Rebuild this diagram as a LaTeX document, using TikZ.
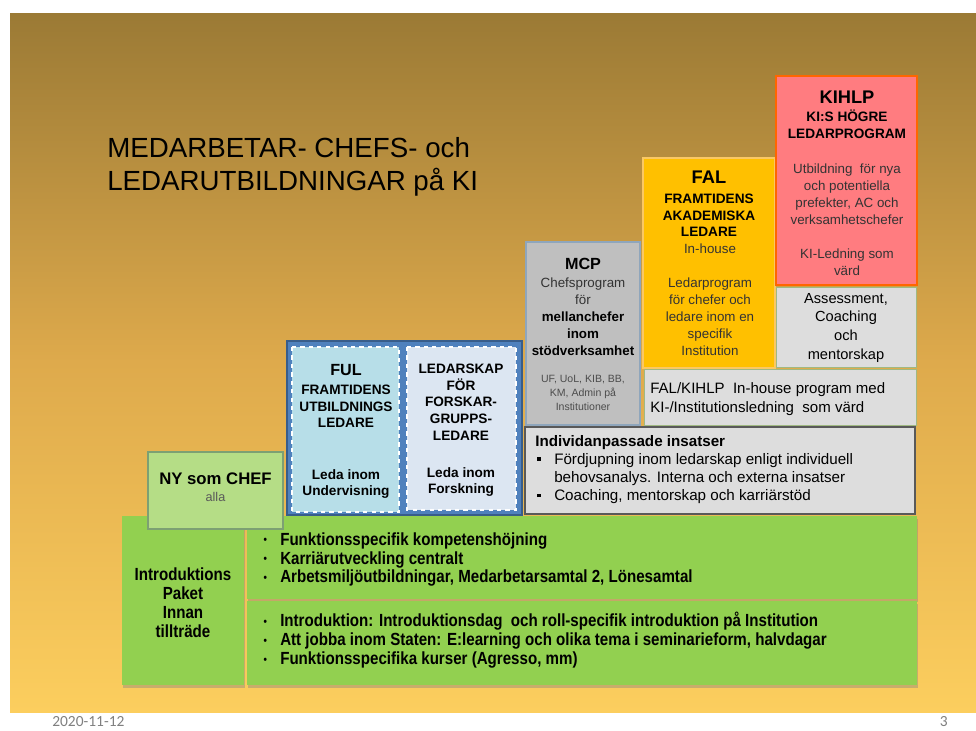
\documentclass[tikz,border=0pt]{standalone}
\usepackage{fontspec}
\setmainfont{Liberation Sans}
\newfontfamily\narrowfont[FakeStretch=0.86]{Liberation Sans}
\newfontfamily\datefont{Carlito}
\usetikzlibrary{shadows}
\definecolor{bgtop}{RGB}{155,122,53}
\definecolor{bgmid}{RGB}{222,170,76}
\definecolor{bgbot}{RGB}{252,206,94}
\definecolor{kigreen}{RGB}{146,208,80}
\definecolor{nygreen}{RGB}{181,221,134}
\definecolor{nyedge}{RGB}{125,160,115}
\definecolor{fulblue}{RGB}{79,129,189}
\definecolor{fuledge}{RGB}{56,93,138}
\definecolor{fulfill}{RGB}{183,222,232}
\definecolor{forskfill}{RGB}{220,230,242}
\definecolor{mcpgrey}{RGB}{191,191,191}
\definecolor{mcpedge}{RGB}{143,166,188}
\definecolor{falorange}{RGB}{255,192,0}
\definecolor{faledge}{RGB}{250,200,100}
\definecolor{kipink}{RGB}{255,124,128}
\definecolor{kiedge}{RGB}{255,102,0}
\definecolor{lightgrey}{RGB}{221,221,221}
\definecolor{greenedge}{RGB}{160,185,130}
\definecolor{darkedge}{RGB}{89,89,89}
\newcommand{\sqbul}{\makebox[13.5pt][l]{\hspace{1.5pt}\rule[2.5pt]{2.6pt}{2.6pt}}}
\newcommand{\dotbul}{\makebox[12.8pt][l]{\hspace{1pt}{\fontsize{8}{8}\selectfont\raisebox{0.8pt}{•}}}}

\begin{document}
\begin{tikzpicture}[x=0.25mm, y=0.25mm]
\tikzstyle{every node}+=[inner sep=0pt]
\tikzstyle{lightbox}=[fill=lightgrey, draw=greenedge, line width=0.7pt]
\tikzstyle{greenbox}=[fill=kigreen, drop shadow={shadow xshift=0.6pt, shadow yshift=-1.8pt, opacity=0.4}]
\tikzstyle{innerbox}=[draw=white, dashed, line width=0.8pt]
\tikzstyle{headtext}=[font=\fontsize{13}{15}\selectfont\bfseries]
\tikzstyle{midhead}=[font=\fontsize{11.5}{13}\selectfont\bfseries]
\tikzstyle{captext}=[align=center, font=\fontsize{9.7}{11.8}\selectfont\bfseries]
\tikzstyle{bodytext}=[align=center, font=\fontsize{9.5}{12}\selectfont, text=black!80]
\tikzstyle{narrowtext}=[align=left, font=\narrowfont\bfseries\fontsize{12.5}{13.5}\selectfont]
\tikzstyle{foottext}=[font=\datefont\fontsize{11}{13}\selectfont, text=black!50]
\useasboundingbox (0,0) rectangle (976,-731);
\fill [white] (0,0) rectangle (976,-731);
\shade [top color=bgtop, bottom color=bgbot, middle color=bgmid] (10,-13) rectangle (976,-712);
\draw (107,-137) node [anchor=north west, align=left, font=\fontsize{19.7}{23.7}\selectfont] (title) {MEDARBETAR- CHEFS- och\\LEDARUTBILDNINGAR på KI};
\fill [greenbox] (122,-516) rectangle (244,-685);
\fill [greenbox] (247,-516) rectangle (917,-599);
\fill [greenbox] (247,-601) rectangle (917,-685);
\draw [fill=nygreen, draw=nyedge, line width=0.9pt] (148,-452) rectangle (283,-529);
\draw [fill=fulblue, draw=fuledge, line width=0.9pt] (287,-341) rectangle (522,-515);
\draw [innerbox, fill=fulfill] (292,-347) rectangle (399,-512);
\draw [innerbox, fill=forskfill] (407,-347) rectangle (516,-510);
\draw [fill=mcpgrey, draw=mcpedge, line width=1.1pt] (526,-242) rectangle (640,-425);
\draw [fill=falorange, draw=faledge, line width=1.2pt] (643,-158) rectangle (775,-368);
\draw [fill=kipink, draw=kiedge, line width=1.8pt] (776,-76) rectangle (917,-285);
\draw [lightbox] (776,-287) rectangle (916,-367);
\draw [lightbox] (644,-369) rectangle (916,-425);
\draw [fill=lightgrey, draw=darkedge, line width=0.9pt] (525,-427) rectangle (915,-514);
\draw (183,-567) node [anchor=north, align=center, font=\narrowfont\bfseries\fontsize{12.5}{13.6}\selectfont] (intro) {Introduktions\\Paket\\Innan\\tillträde};
\draw (262,-532) node [anchor=north west, narrowtext] (upper) {\dotbul Funktionsspecifik kompetenshöjning\\\dotbul Karriärutveckling centralt\\\dotbul Arbetsmiljöutbildningar, Medarbetarsamtal 2, Lönesamtal};
\draw (262,-612) node [anchor=north west, narrowtext] (lower) {\dotbul Introduktion: Introduktionsdag\ \ och roll-specifik introduktion på Institution\\\dotbul Att jobba inom Staten: E:learning och olika tema i seminarieform, halvdagar\\\dotbul Funktionsspecifika kurser (Agresso, mm)};
\draw (215.5,-473) node [anchor=north, font=\fontsize{11.9}{14}\selectfont\bfseries] (nychef) {NY som CHEF};
\draw (215.5,-492) node [anchor=north, font=\fontsize{9}{11}\selectfont, text=black!65] (alla) {alla};
\draw (346,-364) node [anchor=north, midhead] (ful) {FUL};
\draw (346,-385) node [anchor=north, captext] (fulsub) {FRAMTIDENS\\UTBILDNINGS\\LEDARE};
\draw (346,-469) node [anchor=north, captext] (fulleda) {Leda inom\\Undervisning};
\draw (461,-364) node [anchor=north, captext] (forsk) {LEDARSKAP\\FÖR\\FORSKAR-\\GRUPPS-\\LEDARE};
\draw (461,-467) node [anchor=north, captext] (forskleda) {Leda inom\\Forskning};
\draw (583,-258) node [anchor=north, midhead] (mcp) {MCP};
\draw (583,-278) node [anchor=north, bodytext] (mcpbody) {Chefsprogram\\för\\{\color{black}\bfseries mellanchefer}\\{\color{black}\bfseries inom}\\{\color{black}\bfseries stödverksamhet}};
\draw (583,-375) node [anchor=north, align=center, font=\fontsize{7.5}{9.8}\selectfont, text=black!70] (mcpsmall) {UF, UoL, KIB, BB,\\KM, Admin på\\Institutioner};
\draw (709,-171) node [anchor=north, headtext] (fal) {FAL};
\draw (709,-194) node [anchor=north, captext] (falsub) {FRAMTIDENS\\AKADEMISKA\\LEDARE};
\draw (710,-244) node [anchor=north, bodytext] (falbody) {In-house\\[12pt]Ledarprogram\\för chefer och\\ledare inom en\\specifik\\Institution};
\draw (847,-91) node [anchor=north, headtext] (kihlp) {KIHLP};
\draw (847,-110) node [anchor=north, captext] (kihlpsub) {KI:S HÖGRE\\LEDARPROGRAM};
\draw (847,-164) node [anchor=north, bodytext] (kihlpbody) {Utbildning\ \ för nya\\och potentiella\\prefekter, AC och\\verksamhetschefer\\[12pt]KI-Ledning som\\värd};
\draw (846,-293) node [anchor=north, align=center, font=\fontsize{10.4}{13.2}\selectfont] (assess) {Assessment,\\Coaching\\och\\mentorskap};
\draw (650,-382) node [anchor=north west, align=left, font=\fontsize{10.7}{13.7}\selectfont] (inhouse) {FAL/KIHLP\ \ In-house program med\\KI-/Institutionsledning\ \ som värd};
\draw (535,-435) node [anchor=north west, align=left, font=\fontsize{10.8}{12.9}\selectfont] (individ) {\textbf{Individanpassade insatser}\\\sqbul Fördjupning inom ledarskap enligt individuell\\\hspace*{13.5pt}behovsanalys. Interna och externa insatser\\\sqbul Coaching, mentorskap och karriärstöd};
\draw (52,-722) node [anchor=west, foottext] (date) {2020-11-12};
\draw (948,-722) node [anchor=east, foottext] (page) {3};
\end{tikzpicture}
\end{document}
